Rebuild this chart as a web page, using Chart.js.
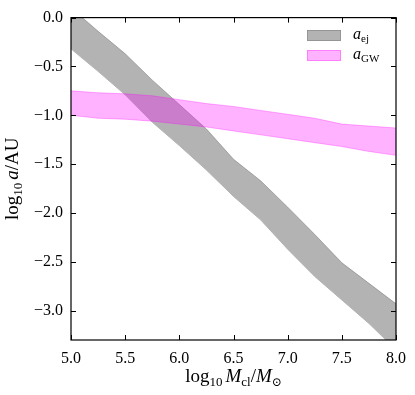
<!DOCTYPE html>
<html>
<head>
<meta charset="utf-8">
<script src="https://cdn.jsdelivr.net/npm/chart.js@4"></script>
<style>
html,body{margin:0;padding:0;background:#fff;}
#wrap{width:415px;height:395px;position:relative;}
</style>
</head>
<body>
<div id="wrap"><canvas id="c" width="415" height="395"></canvas></div>
<script>
// ---- data ----
const massX   = [5.0, 5.25, 5.5, 5.75, 6.0, 6.25, 6.5, 6.75, 7.0, 7.25, 7.5, 7.75, 8.0];
const ejUpper = [0.10, -0.14, -0.37, -0.64, -0.89, -1.14, -1.45, -1.67, -1.94, -2.22, -2.51, -2.72, -2.93];
const ejLower = [-0.32, -0.55, -0.79, -1.07, -1.31, -1.56, -1.83, -2.07, -2.37, -2.65, -2.89, -3.13, -3.40];
const gwUpper = [-0.75, -0.77, -0.78, -0.80, -0.84, -0.88, -0.91, -0.95, -0.99, -1.03, -1.09, -1.11, -1.13];
const gwLower = [-1.00, -1.03, -1.04, -1.06, -1.09, -1.12, -1.16, -1.20, -1.24, -1.28, -1.32, -1.37, -1.41];
const xTicks  = [5.0, 5.5, 6.0, 6.5, 7.0, 7.5, 8.0];
const yTicks  = [0.0, -0.5, -1.0, -1.5, -2.0, -2.5, -3.0];

const SERIF = '"Liberation Serif", "DejaVu Serif", serif';
const pts = ys => massX.map((x, i) => ({x: x, y: ys[i]}));
const fmt = v => v.toFixed(1).replace('-', '\u2212');

const GRAY_FILL = '#b3b3b3';
const GRAY_EDGE = 'rgba(128,128,128,0.6)';
const MAG_FILL = 'rgba(255,0,255,0.3)';
const MAG_EDGE = 'rgba(255,0,255,0.3)';

function drawRuns(ctx, runs, x, y) {
  for (const r of runs) {
    ctx.font = r.font;
    ctx.fillText(r.text, x, y + (r.dy || 0));
    x += ctx.measureText(r.text).width;
  }
}
function runsWidth(ctx, runs) {
  let w = 0;
  for (const r of runs) { ctx.font = r.font; w += ctx.measureText(r.text).width; }
  return w;
}
const F = (s, it) => (it ? 'italic ' : '') + s + 'px ' + SERIF;

const decor = {
  id: 'decor',
  afterDraw(chart) {
    const ctx = chart.ctx;
    const a = chart.chartArea;
    const xs = chart.scales.x, ys = chart.scales.y;
    ctx.save();
    // frame
    ctx.strokeStyle = '#000';
    ctx.lineWidth = 1.2;
    ctx.strokeRect(a.left, a.top, a.right - a.left, a.bottom - a.top);
    // inward ticks on all sides
    ctx.lineWidth = 1;
    const tl = 5;
    ctx.beginPath();
    for (const v of xTicks) {
      const px = Math.round(xs.getPixelForValue(v)) + 0.5;
      ctx.moveTo(px, a.bottom); ctx.lineTo(px, a.bottom - tl);
      ctx.moveTo(px, a.top); ctx.lineTo(px, a.top + tl);
    }
    for (const v of yTicks) {
      const py = Math.round(ys.getPixelForValue(v)) + 0.5;
      ctx.moveTo(a.left, py); ctx.lineTo(a.left + tl, py);
      ctx.moveTo(a.right, py); ctx.lineTo(a.right - tl, py);
    }
    ctx.stroke();

    ctx.fillStyle = '#000';
    ctx.textBaseline = 'alphabetic';
    ctx.textAlign = 'left';
    // x title
    const xr = [
      {text: 'log', font: F(19)},
      {text: '10', font: F(13), dy: 4},
      {text: ' ', font: F(12)},
      {text: 'M', font: F(19, true)},
      {text: 'cl', font: F(13), dy: 4},
      {text: '/', font: F(19)},
      {text: 'M', font: F(19, true)},
      {text: '\u2299', font: F(12), dy: 4}
    ];
    const xw = runsWidth(ctx, xr);
    drawRuns(ctx, xr, (a.left + a.right) / 2 - xw / 2, 382);
    // y title
    const yr = [
      {text: 'log', font: F(19)},
      {text: '10', font: F(13), dy: 4},
      {text: ' ', font: F(12)},
      {text: 'a', font: F(19, true)},
      {text: '/AU', font: F(19)}
    ];
    const yw = runsWidth(ctx, yr);
    ctx.save();
    ctx.translate(18, (a.top + a.bottom) / 2);
    ctx.rotate(-Math.PI / 2);
    drawRuns(ctx, yr, -yw / 2, 0);
    ctx.restore();

    // legend
    const items = [
      {fill: GRAY_FILL, edge: GRAY_EDGE, sub: 'ej', y: 30},
      {fill: MAG_FILL, edge: MAG_EDGE, sub: 'GW', y: 50}
    ];
    for (const it of items) {
      ctx.fillStyle = it.fill;
      ctx.fillRect(307, it.y, 34, 11);
      ctx.strokeStyle = it.edge;
      ctx.lineWidth = 1;
      ctx.strokeRect(307.5, it.y + 0.5, 33, 10);
      ctx.fillStyle = '#000';
      drawRuns(ctx, [
        {text: 'a', font: F(16, true)},
        {text: it.sub, font: F(11), dy: 3}
      ], 353, it.y + 9);
    }
    ctx.restore();
  }
};

new Chart(document.getElementById('c'), {
  type: 'line',
  data: {
    datasets: [
      {label: 'ej upper', data: pts(ejUpper), borderColor: GRAY_EDGE, backgroundColor: GRAY_FILL,
       borderWidth: 1, pointRadius: 0, fill: '+1', order: 2, tension: 0},
      {label: 'ej lower', data: pts(ejLower), borderColor: GRAY_EDGE, backgroundColor: GRAY_FILL,
       borderWidth: 1, pointRadius: 0, fill: false, order: 2, tension: 0},
      {label: 'GW upper', data: pts(gwUpper), borderColor: MAG_EDGE, backgroundColor: MAG_FILL,
       borderWidth: 1, pointRadius: 0, fill: '+1', order: 1, tension: 0},
      {label: 'GW lower', data: pts(gwLower), borderColor: MAG_EDGE, backgroundColor: MAG_FILL,
       borderWidth: 1, pointRadius: 0, fill: false, order: 1, tension: 0}
    ]
  },
  options: {
    responsive: false,
    animation: false,
    layout: {padding: {top: 14, right: 17, left: 0, bottom: 0}},
    plugins: {legend: {display: false}, tooltip: {enabled: false}, filler: {drawTime: 'beforeDatasetDraw'}},
    scales: {
      x: {
        type: 'linear', min: 5, max: 8,
        grid: {display: false, drawTicks: false},
        border: {display: false},
        afterBuildTicks: s => { s.ticks = xTicks.map(v => ({value: v})); },
        afterFit: s => { s.height = 55; },
        ticks: {padding: 9, color: '#000', font: {family: SERIF, size: 16}, maxRotation: 0,
                callback: v => fmt(v)}
      },
      y: {
        type: 'linear', min: -3.3, max: 0,
        grid: {display: false, drawTicks: false},
        border: {display: false},
        afterBuildTicks: s => { s.ticks = yTicks.map(v => ({value: v})); },
        afterFit: s => { s.width = 71; },
        ticks: {padding: 8, color: '#000', font: {family: SERIF, size: 16},
                callback: v => fmt(v)}
      }
    }
  },
  plugins: [decor]
});
</script>
</body>
</html>
